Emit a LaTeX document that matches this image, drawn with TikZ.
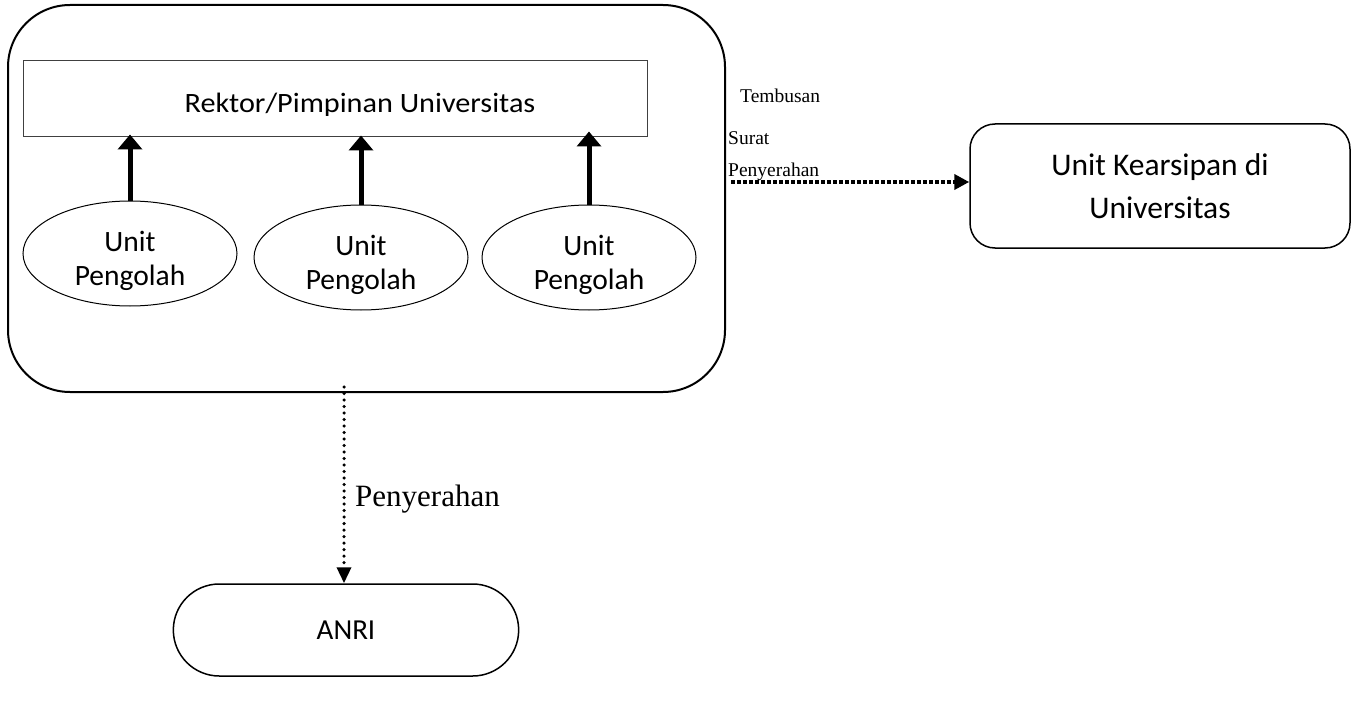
\documentclass[tikz,border=0pt]{standalone}
\usepackage{fontspec}
\setmainfont{Carlito}
\newfontfamily\serifface{Liberation Serif}
\usetikzlibrary{arrows.meta,shapes.geometric,shapes.misc}
\begin{document}
\begin{tikzpicture}[x=1pt,y=-1pt,
  container/.style={draw,line width=2pt,rounded corners=62pt,minimum width=717pt,minimum height=387pt},
  headbox/.style={draw=black!75,line width=1pt,minimum width=624pt,minimum height=76pt},
  headtext/.style={anchor=base,inner sep=0pt,font=\fontsize{28}{30}\selectfont},
  unit/.style={draw,ellipse,line width=1pt,minimum width=214pt,minimum height=105pt,inner sep=0pt},
  unittext/.style={align=center,inner sep=0pt,font=\fontsize{29.5}{34}\selectfont},
  archive/.style={draw,line width=1.5pt,rounded corners=25pt,minimum width=380pt,minimum height=124pt,
    align=center,font=\fontsize{31.5}{43}\selectfont},
  pill/.style={draw,line width=1.5pt,rounded rectangle,minimum width=352pt,minimum height=92pt,
    font=\fontsize{29}{30}\selectfont},
  uparrow/.style={line width=5pt,-{Triangle[width=24pt,length=15pt]}},
  flowdots/.style={line width=4.5pt,dash pattern=on 3.5pt off 2.5pt,-{Triangle[width=15pt,length=15pt]}},
  handover/.style={line width=3.5pt,line cap=round,dash pattern=on 0pt off 6.5pt,
    -{Triangle[width=14pt,length=16pt,line cap=butt]}},
  smalllabel/.style={font=\serifface\fontsize{19.5}{22}\selectfont,inner sep=0pt,anchor=base west},
]
\useasboundingbox (0,0) rectangle (1355,706);

% university with its leadership and processing units
\node[container] (univ) at (366.5,198.5) {};
\node[headbox] (rektor) at (335,99) {};
\begin{scope}
  \clip (rektor.north west) rectangle ([yshift=-1pt]rektor.east |- 0,114.5);
  \node[headtext] (rektortext) at (360,113) {\scalebox{1.08}[1]{Rektor/Pimpinan Universitas}};
\end{scope}

\node[unit] (u1) at (130,253.5) {};
\node[unit] (u2) at (361,257.5) {};
\node[unit] (u3) at (589,257.5) {};
\node[unittext] (u1text) at ([yshift=-7.5pt]u1.center) {Unit\\Pengolah};
\node[unittext] (u2text) at ([yshift=-7.5pt]u2.center) {Unit\\Pengolah};
\node[unittext] (u3text) at ([yshift=-7.5pt]u3.center) {Unit\\Pengolah};

\draw[uparrow] (u1.north) -- ([yshift=3pt]u1.north |- rektor.south);
\draw[uparrow] (u2.north) -- ([yshift=2pt]u2.north |- rektor.south);
\draw[uparrow] (u3.north) -- ([yshift=6pt]u3.north |- rektor.south);

% archive unit receiving copies
\node[archive] (kearsipan) at (1160,186) {Unit Kearsipan di\\Universitas};
\coordinate (copyfrom) at (731,182);
\draw[flowdots] (copyfrom) -- (copyfrom -| kearsipan.west);
\node[smalllabel] (t1) at (740,103) {Tembusan};
\node[smalllabel] (t2) at (728,145) {Surat};
\node[smalllabel] (t3) at (728,177) {Penyerahan};

% national archive
\node[pill] (anri) at (346,630) {ANRI};
\draw[handover] ([xshift=-2pt,yshift=6pt]anri.north |- univ.south) -- ([xshift=-2pt]anri.north);
\node[font=\serifface\fontsize{31}{33}\selectfont,anchor=base west,inner sep=0pt] (lbl) at (355,506) {Penyerahan};
\end{tikzpicture}
\end{document}
